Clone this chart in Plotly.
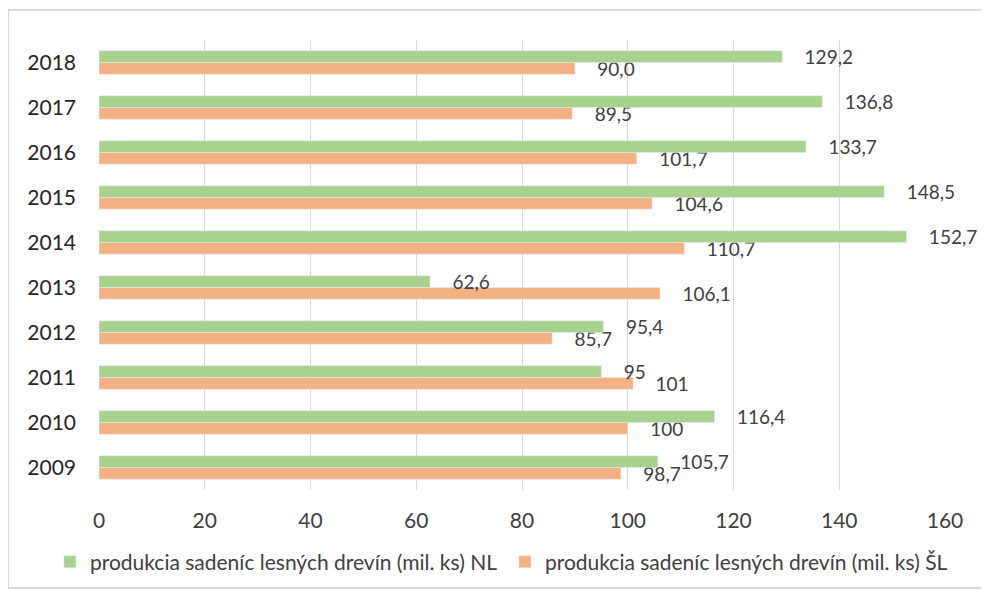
import plotly.graph_objects as go

# data
years = ["2009", "2010", "2011", "2012", "2013", "2014", "2015", "2016", "2017", "2018"]
nl = [105.7, 116.4, 95, 95.4, 62.6, 152.7, 148.5, 133.7, 136.8, 129.2]
sl = [98.7, 100, 101, 85.7, 106.1, 110.7, 104.6, 101.7, 89.5, 90.0]
nl_labels = ["105,7", "116,4", "95", "95,4", "62,6", "152,7", "148,5", "133,7", "136,8", "129,2"]
sl_labels = ["98,7", "100", "101", "85,7", "106,1", "110,7", "104,6", "101,7", "89,5", "90,0"]
x_ticks = [0, 20, 40, 60, 80, 100, 120, 140, 160]

pad = "\u00a0" * 4

fig = go.Figure()
# orange first so it sits below green inside each group
fig.add_trace(go.Bar(
    y=years, x=sl, orientation="h",
    name="produkcia sadeníc lesných drevín (mil. ks) ŠL",
    marker=dict(color="#F4B183"),
    text=[pad + t for t in sl_labels], textposition="outside", constraintext="none",
    textfont=dict(size=19, color="#404040"), cliponaxis=False,
    legendrank=2,
))
fig.add_trace(go.Bar(
    y=years, x=nl, orientation="h",
    name="produkcia sadeníc lesných drevín (mil. ks) NL",
    marker=dict(color="#A9D18E"),
    text=[pad + t for t in nl_labels], textposition="outside", constraintext="none",
    textfont=dict(size=19, color="#404040"), cliponaxis=False,
    legendrank=1,
))

fig.update_layout(
    width=981, height=588,
    margin=dict(l=91, r=44, t=32, b=106),
    paper_bgcolor="white", plot_bgcolor="white",
    font=dict(family="Lato, Carlito, sans-serif", color="#404040"),
    barmode="group", bargap=0.48, bargroupgap=0,
    xaxis=dict(range=[0, 160], tickvals=x_ticks, showgrid=True, gridcolor="#d9d9d9",
               zeroline=False, showline=False, tickfont=dict(size=21, color="#404040"),
               ticklabelstandoff=16, automargin=False),
    yaxis=dict(showgrid=False, showline=False, zeroline=False, automargin=False,
               tickfont=dict(size=21, color="#262626"), ticklabelstandoff=22),
    legend=dict(orientation="h", x=-0.058, xanchor="left", y=-0.16, yanchor="middle",
                font=dict(size=21, color="#404040"), itemwidth=30, traceorder="normal",
                entrywidth=410),
    showlegend=True,
)
# outer chart frame
fig.add_shape(type="rect", xref="paper", yref="paper",
              x0=-0.1076, x1=1.046, y0=-0.218, y1=1.0667,
              line=dict(color="#d9d9d9", width=2))

fig.write_html("out.html")
